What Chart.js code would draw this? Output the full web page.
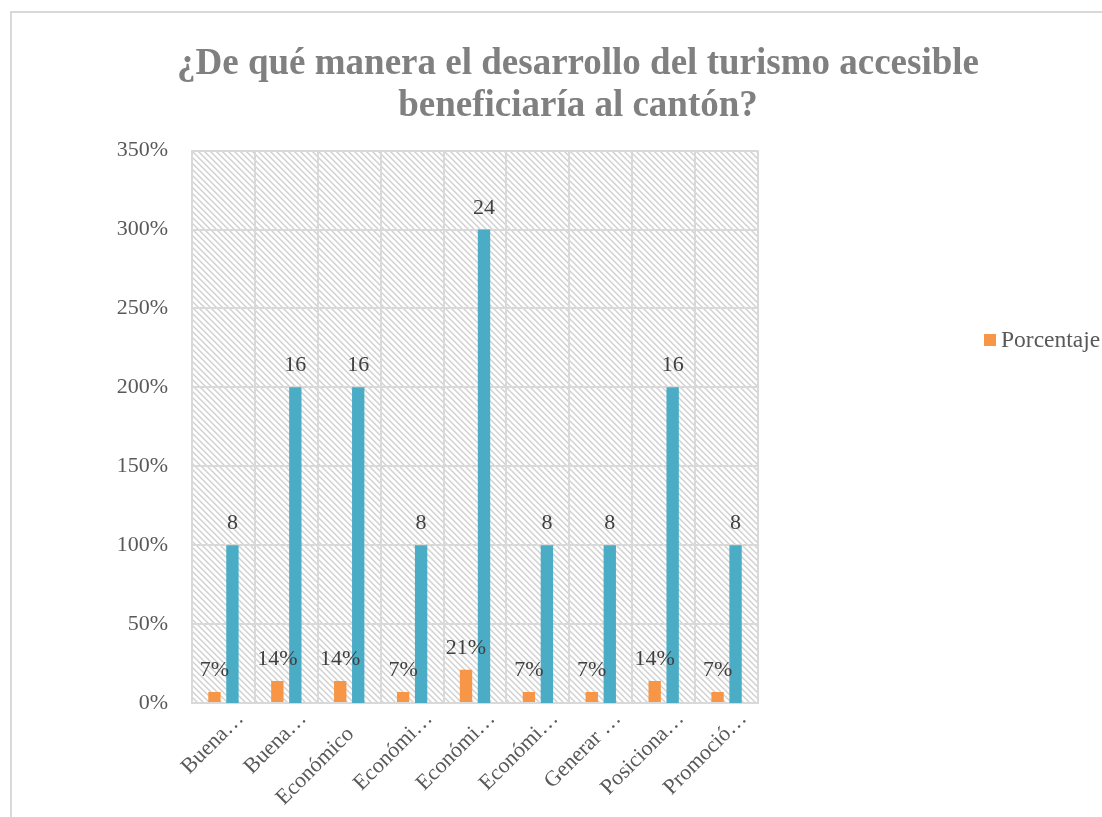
<!DOCTYPE html>
<html>
<head>
<meta charset="utf-8">
<script src="https://cdn.jsdelivr.net/npm/chart.js@4/dist/chart.umd.min.js"></script>
<style>
  html, body { margin: 0; padding: 0; background: #fff; overflow: hidden; }
  #marco { position: absolute; left: 10px; top: 11px; width: 1200px; height: 900px;
           border-left: 2px solid #d9d9d9; border-top: 2px solid #d9d9d9; }
  #caja { position: absolute; left: 10px; top: 11px; width: 1136px; height: 806px; }
</style>
</head>
<body>
<div id="marco"></div>
<div id="caja"><canvas id="grafico"></canvas></div>
<script>
// datos
const categorias = ['Buena\u2026', 'Buena\u2026', 'Económico', 'Económi\u2026', 'Económi\u2026',
                    'Económi\u2026', 'Generar \u2026', 'Posiciona\u2026', 'Promoció\u2026'];
const porcentaje = [0.07, 0.14, 0.14, 0.07, 0.21, 0.07, 0.07, 0.14, 0.07];
const frecuencia = [8, 16, 16, 8, 24, 8, 8, 16, 8];
const ticksY = [0, 0.5, 1, 1.5, 2, 2.5, 3, 3.5];
const titulo = ['¿De qué manera el desarrollo del turismo accesible', 'beneficiaría al cantón?'];

const naranja = '#F79646';
const azul = '#4BACC6';
const fuente = 'Liberation Serif';

function crearTrama() {
    const n = 6;
    const t = document.createElement('canvas');
    t.width = n; t.height = n;
    const c = t.getContext('2d');
    c.fillStyle = '#ffffff';
    c.fillRect(0, 0, n, n);
    c.strokeStyle = '#d0d0d0';
    c.lineWidth = 1.4;
    c.beginPath();
    c.moveTo(-1, -1); c.lineTo(n + 1, n + 1);
    c.moveTo(-1, n - 1); c.lineTo(1, n + 1);
    c.moveTo(n - 1, -1); c.lineTo(n + 1, 1);
    c.stroke();
    return t;
}

const fondoTrama = {
    id: 'fondoTrama',
    beforeDraw(chart) {
        const { ctx, chartArea } = chart;
        ctx.save();
        ctx.fillStyle = ctx.createPattern(crearTrama(), 'repeat');
        ctx.fillRect(chartArea.left, chartArea.top, chartArea.right - chartArea.left, chartArea.bottom - chartArea.top);
        ctx.restore();
    }
};

const etiquetas = {
    id: 'etiquetas',
    afterDatasetsDraw(chart) {
        const ctx = chart.ctx;
        ctx.save();
        ctx.font = '22px "' + fuente + '"';
        ctx.fillStyle = '#404040';
        ctx.textAlign = 'center';
        ctx.textBaseline = 'alphabetic';
        chart.data.datasets.forEach((ds, i) => {
            chart.getDatasetMeta(i).data.forEach((bar, j) => {
                const v = ds.data[j];
                const txt = i === 0 ? Math.round(v * 100) + '%' : String(v);
                ctx.fillText(txt, bar.x, bar.y - 16);
            });
        });
        ctx.restore();
    }
};

const leyenda = {
    id: 'leyenda',
    afterDraw(chart) {
        const ctx = chart.ctx;
        ctx.save();
        ctx.fillStyle = naranja;
        ctx.fillRect(974, 323, 12, 12);
        ctx.font = '23.5px "' + fuente + '"';
        ctx.fillStyle = '#595959';
        ctx.textBaseline = 'middle';
        ctx.textAlign = 'left';
        ctx.fillText(chart.data.datasets[0].label, 991, 330);
        ctx.restore();
    }
};

new Chart(document.getElementById('grafico'), {
    type: 'bar',
    data: {
        labels: categorias,
        datasets: [
            {
                label: 'Porcentaje',
                data: porcentaje,
                backgroundColor: naranja,
                yAxisID: 'y',
                categoryPercentage: 0.572,
                barPercentage: 0.687
            },
            {
                label: 'Frecuencia',
                data: frecuencia,
                backgroundColor: azul,
                yAxisID: 'y2',
                categoryPercentage: 0.572,
                barPercentage: 0.687
            }
        ]
    },
    plugins: [fondoTrama, etiquetas, leyenda],
    options: {
        responsive: true,
        maintainAspectRatio: false,
        animation: false,
        layout: { padding: 0 },
        plugins: {
            legend: { display: false },
            tooltip: { enabled: false },
            title: {
                display: true,
                text: titulo,
                color: '#808080',
                font: { family: fuente, size: 37, weight: 'bold', lineHeight: 1.13 },
                padding: { top: 33, bottom: 23 }
            }
        },
        scales: {
            x: {
                grid: { color: '#d9d9d9', lineWidth: 2, drawTicks: false },
                border: { color: '#d9d9d9', width: 2 },
                ticks: {
                    color: '#595959',
                    font: { family: fuente, size: 22 },
                    minRotation: 45,
                    maxRotation: 45,
                    autoSkip: false,
                    padding: 3,
                    labelOffset: 17,
                    // las etiquetas completas quedan algo mas abajo que las recortadas
                    callback: function (v, i) {
                        const t = categorias[i];
                        return t.endsWith('\u2026') ? t : t + '    ';
                    }
                },
                afterFit(scale) { scale.height = 114; }
            },
            y: {
                position: 'left',
                min: 0,
                max: 3.5,
                afterBuildTicks(scale) { scale.ticks = ticksY.map(v => ({ value: v })); },
                grid: { color: '#d9d9d9', lineWidth: 2, drawTicks: false },
                border: { color: '#d9d9d9', width: 2 },
                ticks: {
                    color: '#595959',
                    font: { family: fuente, size: 22 },
                    padding: 24,
                    callback: v => Math.round(v * 100) + '%'
                },
                afterFit(scale) { scale.width = 182; }
            },
            y2: {
                position: 'right',
                min: 0,
                max: 28,
                grid: { display: false, drawTicks: false },
                border: { display: false },
                ticks: { display: false },
                afterFit(scale) { scale.width = 388; }
            }
        }
    }
});
</script>
</body>
</html>
